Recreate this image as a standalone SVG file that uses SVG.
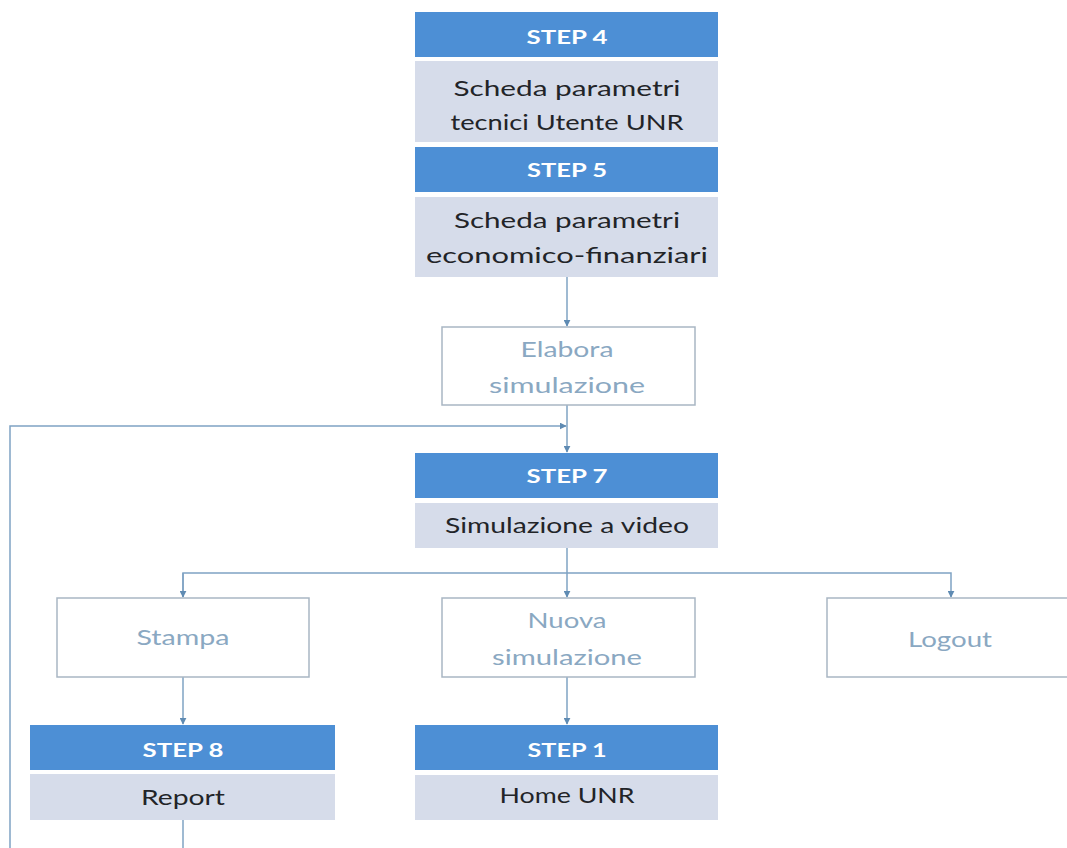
<svg xmlns="http://www.w3.org/2000/svg" width="1067" height="848" viewBox="0 0 1067 848">
  <style>
    .hdr { fill: #4d8fd5; }
    .body { fill: #d6dcea; }
    .act { fill: #ffffff; stroke: #a9b6c3; stroke-width: 1.5; }
    .hdr-t { font-family: Lato, "Open Sans", sans-serif; font-weight: 700; font-size: 19px; fill: #ffffff; text-anchor: middle; }
    .body-t { font-family: Lato, "Open Sans", sans-serif; font-size: 22px; fill: #222428; text-anchor: middle; }
    .act-t { font-family: Lato, "Open Sans", sans-serif; font-size: 22px; fill: #8aa8c2; text-anchor: middle; }
    .wire { fill: none; stroke: #7fa3c3; stroke-width: 1.5; }
  </style>
  <defs>
    <marker id="arr" viewBox="0 0 10 10" refX="9" refY="5" markerWidth="7" markerHeight="7" orient="auto" markerUnits="userSpaceOnUse">
      <path d="M0,0 L10,5 L0,10 z" fill="#5f8bb3"/>
    </marker>
  </defs>
  <rect width="1067" height="848" fill="#ffffff"/>

  <g id="connectors">
    <line class="wire" x1="567" y1="277" x2="567" y2="326" marker-end="url(#arr)"/>
    <line class="wire" x1="567" y1="405" x2="567" y2="452" marker-end="url(#arr)"/>
    <polyline class="wire" points="10,848 10,426 566,426" marker-end="url(#arr)"/>
    <line class="wire" x1="567" y1="548" x2="567" y2="573"/>
    <polyline class="wire" points="183,597 183,573 951,573 951,597" marker-end="url(#arr)"/>
    <line class="wire" x1="183" y1="573" x2="183" y2="597" marker-end="url(#arr)"/>
    <line class="wire" x1="567" y1="573" x2="567" y2="597" marker-end="url(#arr)"/>
    <line class="wire" x1="183" y1="677" x2="183" y2="724" marker-end="url(#arr)"/>
    <line class="wire" x1="567" y1="677" x2="567" y2="724" marker-end="url(#arr)"/>
    <line class="wire" x1="183" y1="820" x2="183" y2="848"/>
  </g>

  <g id="step4">
    <rect class="hdr" x="415" y="12" width="303" height="45"/>
    <text class="hdr-t" x="567" y="44" textLength="81" lengthAdjust="spacingAndGlyphs">STEP 4</text>
    <rect class="body" x="415" y="61" width="303" height="81"/>
    <text class="body-t" x="567" y="96" textLength="227" lengthAdjust="spacingAndGlyphs">Scheda parametri</text>
    <text class="body-t" x="567" y="130" textLength="233" lengthAdjust="spacingAndGlyphs">tecnici Utente UNR</text>
  </g>

  <g id="step5">
    <rect class="hdr" x="415" y="147" width="303" height="45"/>
    <text class="hdr-t" x="567" y="177" textLength="80" lengthAdjust="spacingAndGlyphs">STEP 5</text>
    <rect class="body" x="415" y="197" width="303" height="80"/>
    <text class="body-t" x="567" y="228" textLength="226" lengthAdjust="spacingAndGlyphs">Scheda parametri</text>
    <text class="body-t" x="567" y="263" textLength="282" lengthAdjust="spacingAndGlyphs">economico-finanziari</text>
  </g>

  <g id="elabora">
    <rect class="act" x="442" y="327" width="253" height="78"/>
    <text class="act-t" x="567" y="357" textLength="93" lengthAdjust="spacingAndGlyphs">Elabora</text>
    <text class="act-t" x="567" y="393" textLength="156" lengthAdjust="spacingAndGlyphs">simulazione</text>
  </g>

  <g id="step7">
    <rect class="hdr" x="415" y="453" width="303" height="45"/>
    <text class="hdr-t" x="567" y="483" textLength="81" lengthAdjust="spacingAndGlyphs">STEP 7</text>
    <rect class="body" x="415" y="503" width="303" height="45"/>
    <text class="body-t" x="567" y="533" textLength="244" lengthAdjust="spacingAndGlyphs">Simulazione a video</text>
  </g>

  <g id="stampa">
    <rect class="act" x="57" y="598" width="252" height="79"/>
    <text class="act-t" x="183" y="645" textLength="93" lengthAdjust="spacingAndGlyphs">Stampa</text>
  </g>

  <g id="nuova">
    <rect class="act" x="442" y="598" width="253" height="79"/>
    <text class="act-t" x="567" y="628" textLength="79" lengthAdjust="spacingAndGlyphs">Nuova</text>
    <text class="act-t" x="567" y="665" textLength="150" lengthAdjust="spacingAndGlyphs">simulazione</text>
  </g>

  <g id="logout">
    <rect class="act" x="827" y="598" width="250" height="79"/>
    <text class="act-t" x="950" y="647" textLength="84" lengthAdjust="spacingAndGlyphs">Logout</text>
  </g>

  <g id="step8">
    <rect class="hdr" x="30" y="725" width="305" height="45"/>
    <text class="hdr-t" x="183" y="757" textLength="81" lengthAdjust="spacingAndGlyphs">STEP 8</text>
    <rect class="body" x="30" y="774" width="305" height="46"/>
    <text class="body-t" x="183" y="805" textLength="84" lengthAdjust="spacingAndGlyphs">Report</text>
  </g>

  <g id="step1">
    <rect class="hdr" x="415" y="725" width="303" height="45"/>
    <text class="hdr-t" x="567" y="757" textLength="79" lengthAdjust="spacingAndGlyphs">STEP 1</text>
    <rect class="body" x="415" y="775" width="303" height="45"/>
    <text class="body-t" x="567" y="803" textLength="135" lengthAdjust="spacingAndGlyphs">Home UNR</text>
  </g>
</svg>
